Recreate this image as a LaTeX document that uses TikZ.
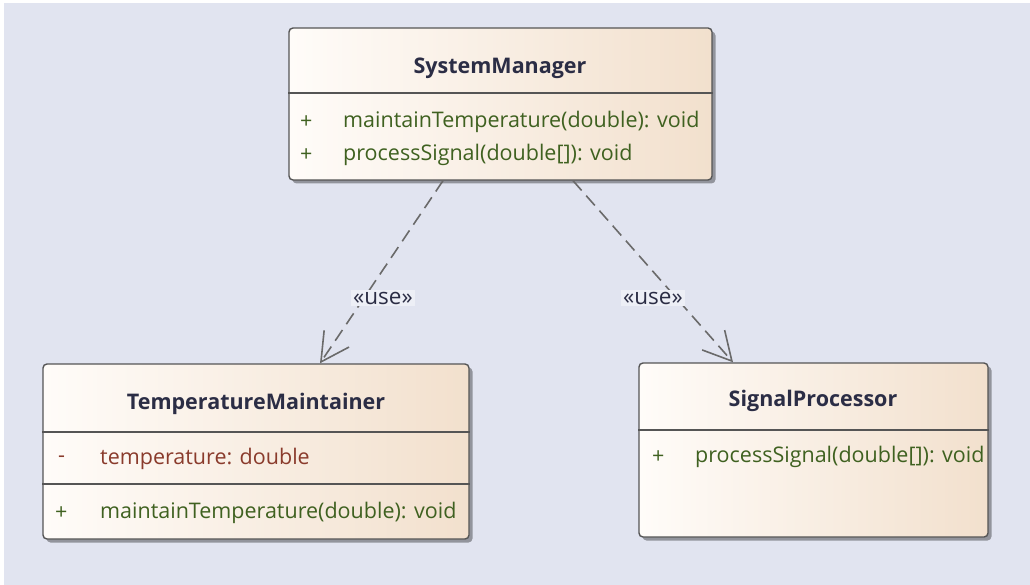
\documentclass[tikz,border=0pt]{standalone}
\usepackage{fontspec}
\setmainfont{Open Sans}
\usepackage{xcolor}
\usetikzlibrary{arrows.meta,positioning,calc,shadows}

\definecolor{bgblue}{HTML}{E1E4F0}
\definecolor{boxwhite}{HTML}{FFFCF9}
\definecolor{boxpeach}{HTML}{F2E0CD}
\definecolor{edgegrey}{HTML}{555555}
\definecolor{opgreen}{HTML}{3F6120}
\definecolor{attrbrown}{HTML}{8A3B2C}
\definecolor{titlenavy}{HTML}{2B2D45}
\definecolor{usegrey}{HTML}{6A6A6A}

\begin{document}
\begin{tikzpicture}[x=1pt,y=-1pt,
  classbox/.style={draw=edgegrey,line width=1.4pt,rounded corners=4pt,
    left color=boxwhite,right color=boxpeach,
    drop shadow={shadow xshift=3.5pt,shadow yshift=-3.5pt,fill=black,opacity=.35}},
  sep/.style={draw=edgegrey,line width=1.3pt},
  title/.style={font=\fontsize{21.5}{24}\selectfont\bfseries,text=titlenavy},
  op/.style={font=\fontsize{21.5}{24}\selectfont,text=opgreen,anchor=west,inner sep=0pt},
  attr/.style={font=\fontsize{21.5}{24}\selectfont,text=attrbrown,anchor=west,inner sep=0pt},
  uses/.style={draw=usegrey,line width=1.6pt,dash pattern=on 13pt off 7pt,
    -{Straight Barb[length=28pt,width=30pt,line width=1.6pt]}},
  stereo/.style={font=\fontsize{22.5}{24}\selectfont,text=titlenavy,fill=bgblue!60!white,inner sep=2pt}]
\useasboundingbox (0,0) rectangle (1030,585);
\fill[white] (0,0) rectangle (1030,585);
\fill[bgblue] (4,3) rectangle (1030,585);

% classes
\node[classbox,minimum width=423pt,minimum height=152pt] (sm) at (500.5,104) {};
\node[classbox,minimum width=426pt,minimum height=175pt] (tm) at (256,451.5) {};
\node[classbox,minimum width=349pt,minimum height=174pt] (sp) at (813.5,450) {};

% SystemManager
\node[title] (smname) at (500,68) {SystemManager};
\draw[sep] (sm.west |- 0,93) -- (sm.east |- 0,93);
\node[op] (smop1a) at (300,122) {+};
\node[op] (smop1) at (343,122) {maintainTemperature(double): void};
\node[op] (smop2a) at (300,155) {+};
\node[op] (smop2) at (343,155) {processSignal(double[]): void};

% TemperatureMaintainer
\node[title] (tmname) at (256,404) {TemperatureMaintainer};
\draw[sep] (tm.west |- 0,432) -- (tm.east |- 0,432);
\node[attr] (tmattra) at (58,459) {-};
\node[attr] (tmattr) at (100,459) {temperature: double};
\draw[sep] (tm.west |- 0,484) -- (tm.east |- 0,484);
\node[op] (tmopa) at (55,513) {+};
\node[op] (tmop) at (100,513) {maintainTemperature(double): void};

% SignalProcessor
\node[title] (spname) at (813,401) {SignalProcessor};
\draw[sep] (sp.west |- 0,430) -- (sp.east |- 0,430);
\node[op] (spopa) at (652,457) {+};
\node[op] (spop) at (695,457) {processSignal(double[]): void};

% dependencies
\coordinate (smleft) at (sm.south -| 443,0);
\coordinate (smright) at (sm.south -| 573,0);
\coordinate (tmtop) at (tm.north -| 320,0);
\coordinate (sptop) at (sp.north -| 733,0);
\draw[uses] (smleft) -- (tmtop);
\draw[uses] (smright) -- (sptop);
\node[stereo] (use1) at (383,298) {«use»};
\node[stereo] (use2) at (653,298) {«use»};
\end{tikzpicture}
\end{document}
